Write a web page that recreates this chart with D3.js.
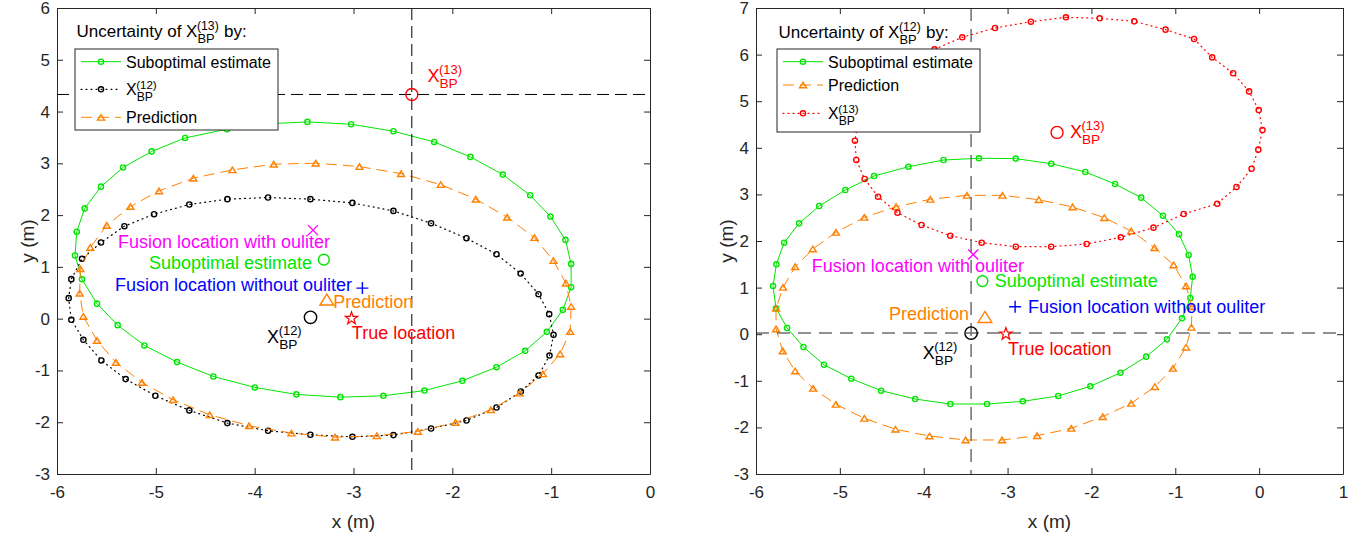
<!DOCTYPE html>
<html>
<head>
<meta charset="utf-8">
<script src="https://cdn.jsdelivr.net/npm/d3@7"></script>
<style>
body { margin: 0; background: #fff; }
svg { font-family: 'Liberation Sans', Arial, Helvetica, sans-serif; }
</style>
</head>
<body>
<svg id="chart" width="1364" height="537"></svg>
<script>
// ---------- data ----------
// left panel, uncertainty ellipses (x, y in m)
const left_suboptimal = [[-3.466,3.80],[-3.90,3.76],[-4.28,3.66],[-4.704,3.49],[-5.042,3.23],[-5.332,2.92],[-5.555,2.55],[-5.72,2.13],[-5.80,1.68],[-5.818,1.22],[-5.747,0.76],[-5.595,0.29],[-5.386,-0.125],[-5.116,-0.517],[-4.785,-0.839],[-4.418,-1.116],[-3.999,-1.328],[-3.578,-1.463],[-3.133,-1.516],[-2.697,-1.49],[-2.282,-1.388],[-1.898,-1.20],[-1.553,-0.937],[-1.263,-0.622],[-1.044,-0.255],[-0.882,0.17],[-0.798,0.608],[-0.798,1.058],[-0.855,1.521],[-1.007,1.971],[-1.213,2.384],[-1.489,2.782],[-1.817,3.124],[-2.184,3.413],[-2.596,3.62],[-3.024,3.755]];
const left_bp12 = [[-3.436,2.308],[-3.864,2.34],[-4.276,2.308],[-4.661,2.205],[-5.018,2.018],[-5.318,1.786],[-5.555,1.471],[-5.747,1.156],[-5.855,0.763],[-5.882,0.396],[-5.855,-0.022],[-5.733,-0.408],[-5.551,-0.807],[-5.305,-1.167],[-5.005,-1.489],[-4.661,-1.772],[-4.276,-2.017],[-3.864,-2.165],[-3.436,-2.242],[-3.011,-2.282],[-2.596,-2.249],[-2.215,-2.121],[-1.857,-1.967],[-1.553,-1.716],[-1.307,-1.407],[-1.128,-1.098],[-1.017,-0.712],[-0.976,-0.313],[-1.02,0.087],[-1.128,0.473],[-1.309,0.871],[-1.553,1.245],[-1.857,1.554],[-2.215,1.843],[-2.596,2.081],[-3.011,2.236]];
const left_prediction = [[-3.382,3.003],[-3.807,2.983],[-4.225,2.874],[-4.62,2.713],[-4.968,2.468],[-5.258,2.166],[-5.497,1.80],[-5.663,1.375],[-5.764,0.963],[-5.771,0.493],[-5.733,0.042],[-5.595,-0.421],[-5.403,-0.846],[-5.14,-1.232],[-4.826,-1.566],[-4.455,-1.856],[-4.057,-2.068],[-3.628,-2.21],[-3.186,-2.288],[-2.764,-2.262],[-2.349,-2.179],[-1.968,-2.005],[-1.61,-1.761],[-1.32,-1.438],[-1.084,-1.066],[-0.909,-0.68],[-0.808,-0.249],[-0.798,0.234],[-0.851,0.685],[-0.977,1.122],[-1.169,1.566],[-1.445,1.959],[-1.762,2.307],[-2.117,2.589],[-2.518,2.801],[-2.94,2.937]];

// right panel, uncertainty ellipses
const right_suboptimal = [[-3.341,3.775],[-3.763,3.738],[-4.182,3.594],[-4.592,3.395],[-4.935,3.094],[-5.246,2.751],[-5.486,2.379],[-5.665,1.964],[-5.757,1.50],[-5.797,1.034],[-5.761,0.555],[-5.629,0.133],[-5.434,-0.275],[-5.19,-0.655],[-4.864,-0.955],[-4.508,-1.212],[-4.102,-1.391],[-3.683,-1.498],[-3.245,-1.498],[-2.818,-1.44],[-2.396,-1.326],[-2.013,-1.118],[-1.654,-0.826],[-1.347,-0.482],[-1.10,-0.11],[-0.92,0.341],[-0.821,0.777],[-0.793,1.234],[-0.841,1.70],[-0.956,2.144],[-1.147,2.543],[-1.407,2.93],[-1.718,3.223],[-2.073,3.481],[-2.479,3.659],[-2.902,3.768]];
const right_prediction = [[-3.484,2.98],[-3.922,2.895],[-4.329,2.736],[-4.708,2.508],[-5.047,2.186],[-5.322,1.828],[-5.533,1.449],[-5.677,1.006],[-5.761,0.555],[-5.761,0.112],[-5.681,-0.36],[-5.533,-0.79],[-5.318,-1.162],[-5.047,-1.505],[-4.708,-1.805],[-4.337,-2.04],[-3.931,-2.185],[-3.5,-2.27],[-3.066,-2.27],[-2.647,-2.178],[-2.24,-2.02],[-1.865,-1.77],[-1.526,-1.483],[-1.243,-1.126],[-1.028,-0.732],[-0.872,-0.281],[-0.808,0.148],[-0.80,0.59],[-0.872,1.034],[-1.02,1.485],[-1.247,1.856],[-1.526,2.215],[-1.846,2.50],[-2.224,2.73],[-2.627,2.886],[-3.061,2.98]];
const right_bp13 = [[-2.304,6.80],[-2.722,6.706],[-3.149,6.571],[-3.54,6.371],[-3.871,6.113],[-4.19,5.82],[-4.46,5.47],[-4.66,5.05],[-4.78,4.60],[-4.82,4.152],[-4.804,3.738],[-4.704,3.33],[-4.544,2.951],[-4.313,2.607],[-4.026,2.343],[-3.683,2.114],[-3.309,1.964],[-2.902,1.878],[-2.48,1.878],[-2.057,1.936],[-1.65,2.079],[-1.26,2.286],[-0.9,2.579],[-0.50,2.80],[-0.27,3.16],[-0.09,3.55],[-0.01,3.96],[0.04,4.38],[-0.005,4.81],[-0.12,5.21],[-0.31,5.60],[-0.56,5.94],[-0.776,6.335],[-1.116,6.535],[-1.49,6.714],[-1.901,6.779]];

// single locations
const loc_bp12 = [-3.435, 0.025];
const loc_bp13 = [-2.41, 4.33];
const loc_suboptimal = [-3.30, 1.14];
const loc_prediction = [-3.27, 0.37];
const loc_with_outlier = [-3.41, 1.71];
const loc_without_outlier = [-2.91, 0.59];
const loc_true = [-3.02, 0.005];

// ticks
const left_x_ticks = [-6, -5, -4, -3, -2, -1, 0];
const left_y_ticks = [-3, -2, -1, 0, 1, 2, 3, 4, 5, 6];
const right_x_ticks = [-6, -5, -4, -3, -2, -1, 0, 1];
const right_y_ticks = [-3, -2, -1, 0, 1, 2, 3, 4, 5, 6, 7];

// ---------- styles ----------
const GREEN = '#00e600';
const ORANGE = '#ff8000';
const RED = '#ff0000';
const AXIS = '#262626';

const svg = d3.select('#chart');

// X_BP^(n) with stacked super/sub script
function draw_bp_text(g, x, y, o) {
    const s = o.size;
    const main = g.append('text')
        .attr('x', x).attr('y', y)
        .style('font-size', s + 'px')
        .style('fill', o.color)
        .text((o.before || '') + 'X');
    const w = main.node().getComputedTextLength();
    const sup = g.append('text')
        .attr('x', x + w - 0.5).attr('y', y - 0.42 * s)
        .style('font-size', (0.72 * s) + 'px')
        .style('fill', o.color)
        .text(o.sup);
    const sub = g.append('text')
        .attr('x', x + w).attr('y', y + 0.33 * s)
        .style('font-size', (0.76 * s) + 'px')
        .style('fill', o.color)
        .text('BP');
    if (o.after) {
        const w2 = Math.max(sup.node().getComputedTextLength(), sub.node().getComputedTextLength());
        g.append('text')
            .attr('x', x + w + w2 + 0.28 * s).attr('y', y)
            .style('font-size', s + 'px')
            .style('fill', o.color)
            .text(o.after);
    }
}

function triangle_path(w, h) {
    return `M0,${-h / 2}L${w / 2},${h / 2}L${-w / 2},${h / 2}Z`;
}

function star_path(r) {
    const pts = [];
    for (let i = 0; i < 10; i++) {
        const a = -Math.PI / 2 + i * Math.PI / 5;
        const rr = i % 2 === 0 ? r : r * 0.4;
        pts.push([rr * Math.cos(a), rr * Math.sin(a)]);
    }
    return 'M' + pts.map(p => p.join(',')).join('L') + 'Z';
}

function draw_marker(g, type, px, py, color, size) {
    if (type === 'circle') {
        g.append('circle').attr('cx', px).attr('cy', py).attr('r', size)
            .style('fill', 'none').style('stroke', color).style('stroke-width', 1.4);
    } else if (type === 'triangle') {
        g.append('path').attr('d', triangle_path(size * 1.25, size))
            .attr('transform', `translate(${px},${py})`)
            .style('fill', 'none').style('stroke', color).style('stroke-width', 1.4);
    } else if (type === 'cross') {
        g.append('path').attr('d', `M${-size},${-size}L${size},${size}M${-size},${size}L${size},${-size}`)
            .attr('transform', `translate(${px},${py})`)
            .style('stroke', color).style('stroke-width', 1.4);
    } else if (type === 'plus') {
        g.append('path').attr('d', `M${-size},0L${size},0M0,${-size}L0,${size}`)
            .attr('transform', `translate(${px},${py})`)
            .style('stroke', color).style('stroke-width', 1.4);
    } else if (type === 'star') {
        g.append('path').attr('d', star_path(size))
            .attr('transform', `translate(${px},${py})`)
            .style('fill', 'none').style('stroke', color).style('stroke-width', 1.2);
    }
}

function draw_series(g, x_scale, y_scale, s) {
    const line = d3.line()
        .x(d => x_scale(d[0]))
        .y(d => y_scale(d[1]))
        .curve(d3.curveLinearClosed);
    g.append('path')
        .attr('d', line(s.points))
        .style('fill', 'none')
        .style('stroke', s.color)
        .style('stroke-width', s.dash === '1,4' ? 1.2 : 1)
        .style('stroke-dasharray', s.dash)
        .style('stroke-linecap', s.dash === '1,4' ? 'round' : 'butt');
    s.points.forEach(d => {
        if (s.marker === 'circle') draw_marker(g, 'circle', x_scale(d[0]), y_scale(d[1]), s.color, 2.6);
        else draw_marker(g, 'triangle', x_scale(d[0]), y_scale(d[1]), s.color, 5.6);
    });
}

function draw_legend_sample(g, x0, x1, y, s) {
    g.append('line').attr('x1', x0).attr('x2', x1).attr('y1', y).attr('y2', y)
        .style('stroke', s.color).style('stroke-width', s.dash === '1,4' ? 1.2 : 1)
        .style('stroke-dasharray', s.dash)
        .style('stroke-linecap', s.dash === '1,4' ? 'round' : 'butt');
    const cx = (x0 + x1) / 2;
    if (s.marker === 'circle') draw_marker(g, 'circle', cx, y, s.color, 2.6);
    else draw_marker(g, 'triangle', cx, y, s.color, 5.6);
}

function draw_panel(p) {
    const x_scale = d3.scaleLinear().domain(p.x_domain).range([p.left, p.right]);
    const y_scale = d3.scaleLinear().domain(p.y_domain).range([p.bottom, p.top]);
    const g = svg.append('g');

    // series
    p.series.forEach(s => draw_series(g, x_scale, y_scale, s));

    // crosshair through the highlighted location
    const cx = x_scale(p.cross[0]), cy = y_scale(p.cross[1]);
    g.append('line').attr('x1', cx).attr('x2', cx).attr('y1', p.top).attr('y2', p.bottom)
        .style('stroke', p.cross_color).style('stroke-width', p.cross_width).style('stroke-dasharray', p.cross_dash);
    g.append('line').attr('x1', p.left).attr('x2', p.right).attr('y1', cy).attr('y2', cy)
        .style('stroke', p.cross_color).style('stroke-width', p.cross_width).style('stroke-dasharray', p.cross_dash);

    // point markers
    draw_marker(g, 'circle', x_scale(loc_bp12[0]), y_scale(loc_bp12[1]), '#000', 6.2);
    draw_marker(g, 'circle', x_scale(loc_bp13[0]), y_scale(loc_bp13[1]), RED, 6);
    draw_marker(g, 'circle', x_scale(loc_suboptimal[0]), y_scale(loc_suboptimal[1]), GREEN, 5.4);
    draw_marker(g, 'triangle', x_scale(loc_prediction[0]), y_scale(loc_prediction[1]), ORANGE, 11);
    draw_marker(g, 'cross', x_scale(loc_with_outlier[0]), y_scale(loc_with_outlier[1]), '#ff00ff', 5);
    draw_marker(g, 'plus', x_scale(loc_without_outlier[0]), y_scale(loc_without_outlier[1]), '#0000ff', 6);
    draw_marker(g, 'star', x_scale(loc_true[0]), y_scale(loc_true[1]), RED, 6.5);

    // annotations
    p.notes.forEach(n => {
        const px = x_scale(n.x), py = y_scale(n.y);
        if (n.sup) {
            draw_bp_text(g, px, py, {size: 18, color: n.color, sup: n.sup});
        } else {
            g.append('text').attr('x', px).attr('y', py)
                .attr('text-anchor', n.anchor)
                .style('font-size', '18px')
                .style('fill', n.color)
                .text(n.text);
        }
    });

    // axes, ticks pointing inwards, box on
    const fmt = d => String(d);
    const bottom_axis = g.append('g').attr('transform', `translate(0,${p.bottom})`)
        .call(d3.axisBottom(x_scale).tickValues(p.x_ticks).tickFormat(fmt).tickSizeInner(-6).tickSizeOuter(0).tickPadding(12));
    const top_axis = g.append('g').attr('transform', `translate(0,${p.top})`)
        .call(d3.axisTop(x_scale).tickValues(p.x_ticks).tickFormat('').tickSizeInner(-6).tickSizeOuter(0));
    const left_axis = g.append('g').attr('transform', `translate(${p.left},0)`)
        .call(d3.axisLeft(y_scale).tickValues(p.y_ticks).tickFormat(fmt).tickSizeInner(-6).tickSizeOuter(0).tickPadding(7));
    const right_axis = g.append('g').attr('transform', `translate(${p.right},0)`)
        .call(d3.axisRight(y_scale).tickValues(p.y_ticks).tickFormat('').tickSizeInner(-6).tickSizeOuter(0));
    [bottom_axis, top_axis, left_axis, right_axis].forEach(a => {
        a.select('.domain').style('stroke', AXIS).style('stroke-width', 1);
        a.selectAll('.tick line').style('stroke', AXIS);
        a.selectAll('.tick text').style('font-size', '17px').style('fill', AXIS)
            .style('font-family', "'Liberation Sans', Arial, sans-serif");
    });

    g.append('text')
        .attr('x', (p.left + p.right) / 2).attr('y', 528)
        .attr('text-anchor', 'middle')
        .style('font-size', '19px').style('fill', AXIS)
        .text('x (m)');
    g.append('text')
        .attr('transform', `translate(${p.left - 30},${(p.top + p.bottom) / 2}) rotate(-90)`)
        .attr('text-anchor', 'middle')
        .attr('dominant-baseline', 'central')
        .style('font-size', '19px').style('fill', AXIS)
        .text('y (m)');

    // legend
    const lg = p.legend;
    g.append('rect')
        .attr('x', lg.x).attr('y', lg.y).attr('width', lg.w).attr('height', lg.h)
        .style('fill', '#fff').style('stroke', AXIS).style('stroke-width', 1);
    draw_bp_text(g, lg.x + 1.5, lg.head_y, {size: 17, color: '#000', before: 'Uncertainty of ', sup: lg.head_sup, after: 'by:'});
    lg.rows.forEach((r, i) => {
        const y = lg.row_y[i];
        draw_legend_sample(g, lg.x + 6, lg.x + 46, y, r.series);
        if (r.sup) {
            draw_bp_text(g, lg.x + 51, y + 6, {size: 16, color: '#000', sup: r.sup});
        } else {
            g.append('text').attr('x', lg.x + 51).attr('y', y + 6)
                .style('font-size', '16px').style('fill', '#000')
                .text(r.label);
        }
    });
}

const s_left_sub = {points: left_suboptimal, color: GREEN, dash: null, marker: 'circle'};
const s_left_bp12 = {points: left_bp12, color: '#000', dash: '1,4', marker: 'circle'};
const s_left_pred = {points: left_prediction, color: ORANGE, dash: '11,6', marker: 'triangle'};
const s_right_sub = {points: right_suboptimal, color: GREEN, dash: null, marker: 'circle'};
const s_right_pred = {points: right_prediction, color: ORANGE, dash: '11,6', marker: 'triangle'};
const s_right_bp13 = {points: right_bp13, color: RED, dash: '1,4', marker: 'circle'};

draw_panel({
    x_domain: [-6, 0], y_domain: [-3, 6],
    left: 57, right: 650, top: 8, bottom: 474,
    x_ticks: left_x_ticks, y_ticks: left_y_ticks,
    series: [s_left_sub, s_left_bp12, s_left_pred],
    cross: loc_bp13, cross_color: '#000', cross_width: 1, cross_dash: '12,6',
    notes: [
        {text: 'Fusion location with ouliter', x: -3.237, y: 1.367, anchor: 'end', color: '#ff00ff'},
        {text: 'Suboptimal estimate', x: -3.419, y: 0.961, anchor: 'end', color: GREEN},
        {text: 'Fusion location without ouliter', x: -3.014, y: 0.537, anchor: 'end', color: '#0000ff'},
        {text: 'Prediction', x: -3.206, y: 0.208, anchor: 'start', color: ORANGE},
        {text: 'True location', x: -3.017, y: -0.396, anchor: 'start', color: RED},
        {sup: '(12)', x: -3.874, y: -0.467, color: '#000'},
        {sup: '(13)', x: -2.252, y: 4.577, color: RED}
    ],
    legend: {
        x: 75, y: 49, w: 203, h: 81, head_y: 37.3, head_sup: '(13)',
        row_y: [61.7, 89.3, 117.3],
        rows: [
            {series: s_left_sub, label: 'Suboptimal estimate'},
            {series: s_left_bp12, sup: '(12)'},
            {series: s_left_pred, label: 'Prediction'}
        ]
    }
});

draw_panel({
    x_domain: [-6, 1], y_domain: [-3, 7],
    left: 756, right: 1343, top: 8, bottom: 474,
    x_ticks: right_x_ticks, y_ticks: right_y_ticks,
    series: [s_right_sub, s_right_pred, s_right_bp13],
    cross: loc_bp12, cross_color: '#6e6e6e', cross_width: 1.5, cross_dash: '13,8',
    notes: [
        {text: 'Fusion location with ouliter', x: -5.334, y: 1.341, anchor: 'start', color: '#ff00ff'},
        {text: 'Suboptimal estimate', x: -3.153, y: 1.006, anchor: 'start', color: GREEN},
        {text: 'Fusion location without ouliter', x: -2.755, y: 0.461, anchor: 'start', color: '#0000ff'},
        {text: 'Prediction', x: -3.46, y: 0.305, anchor: 'end', color: ORANGE},
        {text: 'True location', x: -2.994, y: -0.446, anchor: 'start', color: RED},
        {sup: '(12)', x: -4.011, y: -0.532, color: '#000'},
        {sup: '(13)', x: -2.256, y: 4.21, color: RED}
    ],
    legend: {
        x: 777, y: 49, w: 203, h: 83, head_y: 38.3, head_sup: '(12)',
        row_y: [61.7, 85, 113.3],
        rows: [
            {series: s_right_sub, label: 'Suboptimal estimate'},
            {series: s_right_pred, label: 'Prediction'},
            {series: s_right_bp13, sup: '(13)'}
        ]
    }
});
</script>
</body>
</html>
